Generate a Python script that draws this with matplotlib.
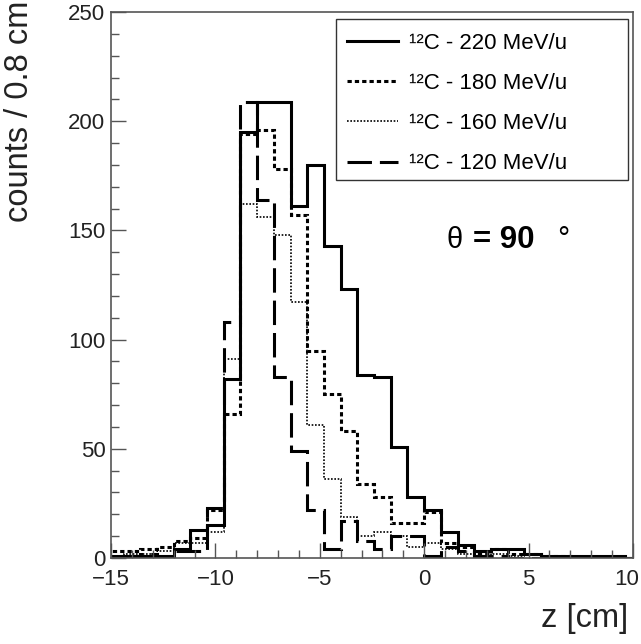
import numpy as np
import matplotlib
matplotlib.use('Agg')
import matplotlib.pyplot as plt
import matplotlib.patches as patches
import matplotlib.transforms as mtransforms
from matplotlib.lines import Line2D

plt.rcParams['font.family'] = ['Liberation Sans', 'DejaVu Sans']

# histogram binning: 0.8 cm bins from -16 to 12 cm
bin_edges = np.round(np.arange(-16.0, 12.01, 0.8), 2)

counts_220 = [0, 1, 1, 1, 0, 4, 13, 15, 82, 195, 209, 209, 161, 180, 143, 123, 84, 83,
              51, 28, 22, 12, 6, 3, 4, 4, 2, 1, 1, 1, 1, 1, 0, 0, 0]
counts_180 = [0, 3, 3, 4, 5, 8, 9, 22, 66, 194, 196, 178, 157, 95, 75, 58, 34, 28,
              16, 16, 21, 7, 5, 2, 4, 2, 2, 1, 1, 0, 0, 0, 0, 0, 0]
counts_160 = [0, 1, 2, 2, 3, 7, 7, 12, 91, 162, 156, 148, 117, 61, 36, 19, 10, 12,
              10, 5, 7, 4, 2, 1, 2, 1, 2, 1, 0, 0, 0, 0, 0, 0, 0]
counts_120 = [0, 1, 1, 2, 1, 3, 3, 23, 108, 209, 164, 83, 49, 22, 4, 17, 8, 4,
              10, 10, 1, 5, 3, 1, 1, 0, 0, 0, 0, 0, 0, 0, 0, 0, 0]

labels = ['\u00b9\u00b2C - 220 MeV/u', '\u00b9\u00b2C - 180 MeV/u',
          '\u00b9\u00b2C - 160 MeV/u', '\u00b9\u00b2C - 120 MeV/u']

styles = [
    dict(lw=2.2, ls='solid'),
    dict(lw=2.2, ls=(0, (1.4, 1.0))),
    dict(lw=1.2, ls=(0, (1.0, 1.0))),
    dict(lw=2.2, ls=(0, (8.0, 2.6))),
]

fig = plt.figure(figsize=(6.41, 6.44), dpi=100)
ax = fig.add_axes([111 / 641, 86 / 644, 522 / 641, 546 / 644])

series = [counts_220, counts_180, counts_160, counts_120]
for vals, st in list(zip(series, styles))[::-1]:
    ax.stairs(vals, bin_edges, color='black', linewidth=st['lw'], linestyle=st['ls'],
              baseline=0)

ax.set_xlim(-15, 10)
ax.set_ylim(0, 250)
ax.set_xticks([-15, -10, -5, 0, 5, 10])
ax.set_xticks(np.arange(-15, 10.1, 1), minor=True)
ax.set_yticks([0, 50, 100, 150, 200, 250])
ax.set_yticks(np.arange(0, 251, 10), minor=True)

frame_col = '#555555'
for side in ['left', 'right', 'top', 'bottom']:
    ax.spines[side].set_color(frame_col)
    ax.spines[side].set_linewidth(1.2)
ax.tick_params(which='both', direction='in', top=False, right=False, color=frame_col,
               width=1.0, labelsize=16, labelcolor='#222222')
ax.tick_params(which='major', length=11)
ax.tick_params(which='minor', length=5.5)
ax.tick_params(axis='x', pad=8)
ax.tick_params(axis='y', pad=4)

# keep the "10" label inside the canvas
last = ax.xaxis.get_major_ticks()[-1].label1
last.set_transform(last.get_transform() +
                   mtransforms.ScaledTranslation(-6 / 100, 0, fig.dpi_scale_trans))

# legend box (fixed size, ROOT style)
box = patches.Rectangle((0.431, 0.692), 0.559, 0.295, transform=ax.transAxes,
                        facecolor='white', edgecolor='#333333', linewidth=1.0, zorder=5)
ax.add_patch(box)
handles = [Line2D([], [], color='black', linewidth=st['lw'], linestyle=st['ls'])
           for st in styles]
leg = ax.legend(handles, labels, loc='upper left', bbox_to_anchor=(0.452, 0.9615),
                frameon=False, fontsize=16, handlelength=2.3, handletextpad=0.5,
                labelspacing=0.86, borderpad=0, borderaxespad=0)
leg.set_zorder(6)

ax.text(1.09, 142, '\u03b8', fontsize=21, ha='left', va='baseline')
ax.text(2.35, 142, '= 90', fontsize=22.5, fontweight='bold', ha='left', va='baseline')
ax.text(6.35, 142, '\u00b0', fontsize=22, ha='left', va='baseline')

fig.text(20 / 641, 1 - 1 / 644, 'counts / 0.8 cm', rotation=90, ha='center', va='top',
         fontsize=23.5, color='#222222')
fig.text(628 / 641, 1 - 619 / 644, 'z [cm]', ha='right', va='center', fontsize=23.5,
         color='#222222')

fig.savefig('out.png', dpi=100, facecolor='white')
